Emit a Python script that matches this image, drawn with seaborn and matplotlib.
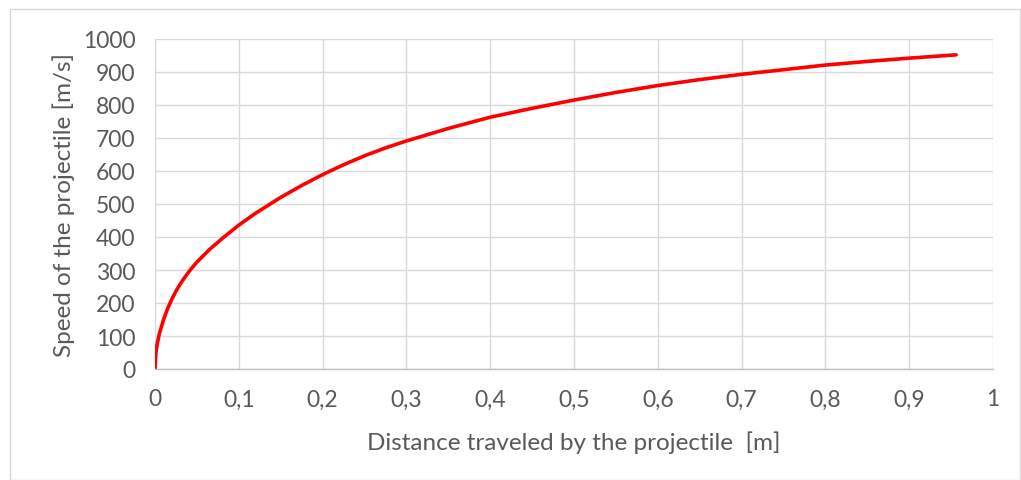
import matplotlib
matplotlib.use("Agg")
import matplotlib.pyplot as plt
import seaborn as sns
import pandas as pd
from matplotlib.patches import Rectangle

# Data
distance_m = [0, 0.001, 0.0025, 0.005, 0.01, 0.015, 0.02, 0.025, 0.03, 0.035, 0.042,
              0.05, 0.065, 0.08, 0.1, 0.12, 0.15, 0.175, 0.2, 0.225, 0.25, 0.275,
              0.3, 0.35, 0.4, 0.45, 0.5, 0.55, 0.6, 0.65, 0.7, 0.75, 0.8, 0.85,
              0.9, 0.956]
speed_ms = [0, 47, 74, 105, 148, 183, 211, 236, 257, 276, 300,
            324, 362, 395, 436, 472, 520, 556, 589, 619, 646, 670,
            691, 729, 763, 790, 815, 838, 859, 877, 893, 907, 921, 932,
            942, 952]
x_ticks = [0, 0.1, 0.2, 0.3, 0.4, 0.5, 0.6, 0.7, 0.8, 0.9, 1]
x_tick_labels = ["0", "0,1", "0,2", "0,3", "0,4", "0,5", "0,6", "0,7", "0,8", "0,9", "1"]
y_ticks = [0, 100, 200, 300, 400, 500, 600, 700, 800, 900, 1000]

df = pd.DataFrame({"distance": distance_m, "speed": speed_ms})

sns.set_theme(style="whitegrid")
plt.rcParams["font.family"] = ["Lato", "DejaVu Sans"]

fig = plt.figure(figsize=(10.21, 4.81), dpi=100)
fig.patch.set_facecolor("white")
ax = fig.add_axes([155 / 1021, 1 - 370 / 481, (993 - 155) / 1021, (370 - 40) / 481])

sns.lineplot(data=df, x="distance", y="speed", ax=ax, color="#ff0000",
             linewidth=2.6, sort=False)
for ln in ax.lines:
    ln.set_solid_joinstyle("round")
    ln.set_solid_capstyle("round")

ax.set_xlim(0, 1)
ax.set_ylim(0, 1000)
ax.set_xticks(x_ticks)
ax.set_xticklabels(x_tick_labels)
ax.set_yticks(y_ticks)

text_color = "#595959"
ax.tick_params(axis="x", colors=text_color, labelsize=16.5, length=0, pad=14)
ax.tick_params(axis="y", colors=text_color, labelsize=16.5, length=0, pad=14)
ax.grid(True, color="#d9d9d9", linewidth=1.0)
for side in ["top", "right", "left"]:
    ax.spines[side].set_visible(False)
ax.spines["bottom"].set_color("#bfbfbf")
ax.spines["bottom"].set_linewidth(1.0)
ax.set_facecolor("white")

ax.set_xlabel("Distance traveled by the projectile  [m]", fontsize=17.5,
              color=text_color, labelpad=15)
ax.set_ylabel("Speed of the projectile [m/s]", fontsize=17.5,
              color=text_color, labelpad=6)

# outer chart border
fig.patches.append(Rectangle((10 / 1021, 0), 1 - 10 / 1021 - 0.0005, 1 - 10 / 481,
                             transform=fig.transFigure, fill=False,
                             edgecolor="#d9d9d9", linewidth=1.0))

fig.savefig("out.png", dpi=100, facecolor="white")
